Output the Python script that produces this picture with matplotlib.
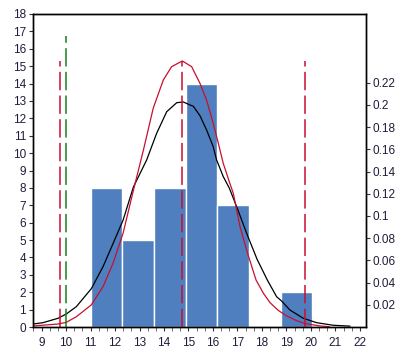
import matplotlib
matplotlib.use("Agg")
import matplotlib.pyplot as plt
from matplotlib.ticker import MultipleLocator, FixedLocator, FixedFormatter

# ---- data ----
bin_start = 11.0
bin_width = 1.295
counts = [8, 5, 8, 14, 7, 0, 2]

kernel_x = [8.65, 9.06, 9.67, 10.01, 10.42, 11.03, 11.51, 11.92, 12.33, 12.75,
            13.29, 13.70, 14.11, 14.52, 14.79, 15.06, 15.20, 15.47, 15.74, 16.01,
            16.15, 16.42, 16.67, 17.00, 17.40, 17.80, 18.22, 18.60, 18.80, 19.14,
            19.69, 20.23, 20.91, 21.59]
kernel_y = [0.17, 0.25, 0.50, 0.75, 1.17, 2.20, 3.47, 4.80, 6.15, 8.05,
            9.60, 11.14, 12.38, 12.90, 12.94, 12.77, 12.69, 12.15, 11.33, 10.37,
            9.60, 8.65, 7.98, 6.80, 5.30, 3.90, 2.70, 1.74, 1.50, 0.98,
            0.50, 0.25, 0.10, 0.05]

normal_x = [8.65, 9.67, 10.01, 10.42, 11.03, 11.51, 11.92, 12.33, 12.74, 13.16,
            13.56, 13.97, 14.31, 14.75, 15.13, 15.47, 15.74, 16.01, 16.22, 16.42,
            16.69, 16.83, 17.10, 17.40, 17.76, 18.06, 18.33, 18.67, 19.01, 19.42,
            19.75, 20.37, 20.75]
normal_y = [0.06, 0.17, 0.27, 0.59, 1.27, 2.32, 3.67, 5.40, 7.80, 10.18,
            12.58, 14.20, 14.97, 15.30, 14.97, 14.01, 13.05, 11.71, 10.56, 9.41,
            8.26, 7.69, 5.80, 4.30, 2.70, 1.94, 1.40, 0.95, 0.64, 0.36,
            0.20, 0.06, 0.02]

red_lines_x = [9.75, 14.75, 19.75]
red_lines_top = [15.3, 15.3, 15.3]
green_line_x = [10.0]
green_line_top = [16.75]

left_ticks = list(range(0, 19))
bottom_ticks = list(range(9, 23))
right_ticks = [0.02, 0.04, 0.06, 0.08, 0.1, 0.12, 0.14, 0.16, 0.18, 0.2, 0.22]
right_labels = ["0.02", "0.04", "0.06", "0.08", "0.1", "0.12", "0.14", "0.16", "0.18", "0.2", "0.22"]

# ---- style ----
txt = "#1e1e3a"
plt.rcParams["font.family"] = ["Liberation Sans", "DejaVu Sans"]
bar_color = "#4f7fbf"
red = "#c8102e"
green = "#16801e"

fig = plt.figure(figsize=(4.08, 3.61), dpi=100)
ax = fig.add_axes([33 / 408, 34 / 361, (366 - 33) / 408, (327 - 14) / 361])

lefts = [bin_start + i * bin_width for i in range(len(counts))]
ax.bar(lefts, counts, width=bin_width, align="edge", color=bar_color,
       edgecolor="white", linewidth=1.0, zorder=2)

ax.plot(kernel_x, kernel_y, color="black", lw=0.9, zorder=3)
ax.plot(normal_x, normal_y, color=red, lw=0.9, zorder=3)

for x, top in zip(red_lines_x, red_lines_top):
    ax.plot([x, x], [0, top], color=red, lw=1.1, dashes=(12, 3.5), zorder=4)
for x, top in zip(green_line_x, green_line_top):
    ax.plot([x, x], [0, top], color=green, lw=1.1, dashes=(12, 3.5), zorder=4)

ax.set_xlim(8.65, 22.25)
ax.set_ylim(0, 18)
ax.set_xticks(bottom_ticks)
ax.set_xticklabels([str(t) for t in bottom_ticks])
ax.xaxis.set_minor_locator(MultipleLocator(1 / 3))
ax.set_yticks(left_ticks)
ax.set_yticklabels([str(t) for t in left_ticks])

for s in ax.spines.values():
    s.set_linewidth(1.0)
    s.set_color("black")

ax.tick_params(axis="both", which="major", direction="out", length=3, width=0.8,
               labelsize=8.5, labelcolor=txt, color="#333333", pad=2)
ax.tick_params(axis="x", which="minor", direction="out", length=3, width=0.6,
               color="#555555")
ax.tick_params(axis="x", which="major", pad=4)

ax2 = ax.twinx()
ax2.set_ylim(0, 0.2819)
ax2.yaxis.set_major_locator(FixedLocator(right_ticks))
ax2.yaxis.set_major_formatter(FixedFormatter(right_labels))
ax2.tick_params(axis="y", direction="out", length=3, width=0.8, labelsize=8.5,
                labelcolor=txt, color="#333333", pad=2)
for s in ax2.spines.values():
    s.set_linewidth(1.0)

fig.savefig("out.png", dpi=100, facecolor="white")
